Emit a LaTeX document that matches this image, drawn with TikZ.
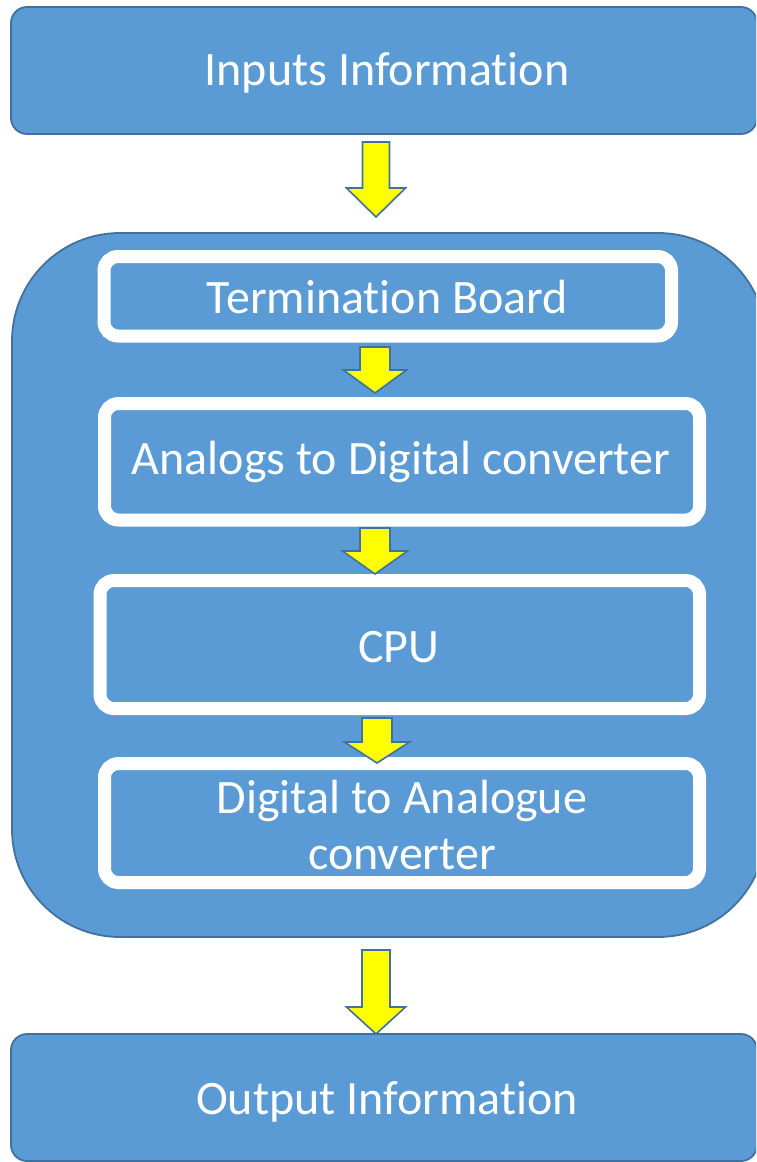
\documentclass[tikz,border=0pt]{standalone}
\usepackage{fontspec}
\setmainfont[Ligatures={NoCommon,NoDiscretionary,NoRare}]{Carlito}
\definecolor{boxfill}{HTML}{5B9BD5}
\definecolor{boxline}{HTML}{41719C}
\definecolor{arrowfill}{HTML}{FFFF00}
\tikzset{
  blockbox/.style={fill=boxfill, draw=boxline, line width=1.8pt},
  stagebox/.style={fill=boxfill, draw=white, line width=13pt, rounded corners=14pt},
  label/.style={text=white, font=\fontsize{48}{56}\selectfont, align=center, inner sep=0pt},
  flowarrow/.style={fill=arrowfill, draw=boxline, line width=1.6pt, line join=miter},
}
% block arrow: centre x, shaft top, shoulder, tip, shaft half-width, head half-width
\newcommand{\flowdown}[6]{%
  \draw[flowarrow] (#1-#5,#2) -- (#1+#5,#2) -- (#1+#5,#3) -- (#1+#6,#3)
    -- (#1,#4) -- (#1-#6,#3) -- (#1-#5,#3) -- cycle;}
\begin{document}
\begin{tikzpicture}[x=1pt,y=-1pt]
\useasboundingbox (0,0) rectangle (756,1162);
\clip (0,0) rectangle (756,1162);

% outer blocks
\draw[blockbox, rounded corners=16pt] (11,7) rectangle (757,134);
\node[label] (in) at (387,73) {Inputs Information};

\draw[blockbox, rounded corners=108pt] (12,233) rectangle (766,937);
\coordinate (plc) at (388,585);

\draw[blockbox, rounded corners=16pt] (11,1034) rectangle (757,1161);
\node[label] (out) at (387,1102) {Output Information};

% stages inside the controller
\draw[stagebox] (104,256.5) rectangle (671.5,336);
\node[label] (tb) at (387.5,297) {Termination Board};

\draw[stagebox] (104.5,403.5) rectangle (699.5,520);
\node[label] (adc) at (401,462) {Analogs to Digital converter};

\draw[stagebox] (100,580.5) rectangle (699.5,708.5);
\node[label] (cpu) at (399,647) {CPU};

\draw[stagebox] (104.5,763.5) rectangle (699.5,882.5);
\node[label] (dac) at (402,825) {Digital to Analogue\\converter};

% flow arrows
\flowdown{376}{142}{188}{217}{13.5}{29.5}
\flowdown{375}{347}{370}{393}{15}{31.5}
\flowdown{375}{528}{551}{574}{15}{32.5}
\flowdown{377}{718}{742}{763}{15}{32.5}
\flowdown{376}{950}{1007}{1034}{14}{29.5}
\end{tikzpicture}
\end{document}
